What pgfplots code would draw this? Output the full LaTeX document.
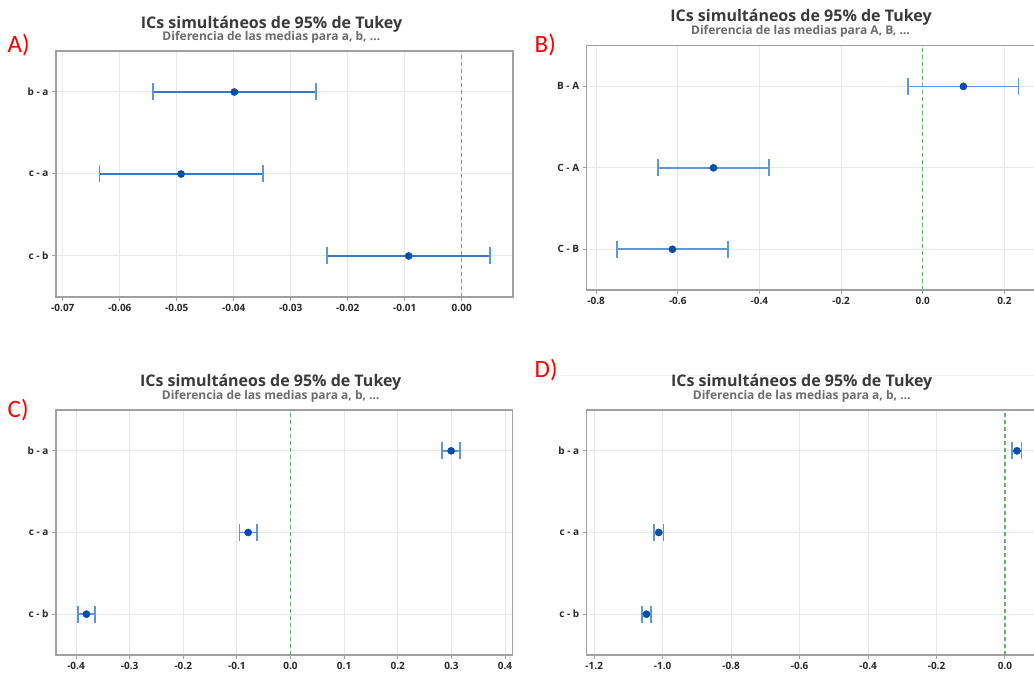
\documentclass[border=0pt]{standalone}
\usepackage{fontspec}
\setmainfont{Open Sans}
\newfontfamily\carlito{Carlito}
\usepackage{pgfplots}
\pgfplotsset{compat=1.18}
\definecolor{barc}{RGB}{58,118,196}
\definecolor{barl}{RGB}{96,150,212}
\definecolor{capc}{RGB}{96,150,212}
\definecolor{dotc}{RGB}{0,78,165}
\definecolor{refc}{RGB}{96,184,108}
\definecolor{gridc}{RGB}{232,232,232}
\definecolor{framec}{RGB}{160,160,160}
\definecolor{tickc}{RGB}{40,40,40}
\definecolor{titlec}{RGB}{58,58,58}
\definecolor{subc}{RGB}{108,108,108}
\pgfplotsset{tukey/.style={scale only axis, width=457pt, height=246pt,
  ymin=0.5, ymax=3.5, ytick={1,2,3},
  grid=major, major grid style={gridc, line width=1pt},
  axis line style={framec, line width=1.3pt},
  tick align=outside, xtick pos=lower, ytick pos=left,
  major tick length=4pt, tick style={framec, line width=1pt},
  ticklabel style={font=\fontsize{10}{12}\selectfont\bfseries, text=tickc},
  scaled x ticks=false,
  /pgf/number format/assume math mode=true,
  /pgf/number format/fixed, /pgf/number format/fixed zerofill,
  anchor=north west},
  ci/.style={only marks, mark=*, mark size=3.6pt, mark options={fill=dotc, draw=dotc},
  error bars/.cd, x dir=both, x explicit, error mark=|,
  error bar style={#1, line width=1.8pt},
  error mark options={capc, line width=1.6pt, mark size=8.5pt}},
  zero/.style={draw=refc, line width=1.5pt, dash pattern=on 4pt off 3pt}}
\begin{document}
\begin{tikzpicture}
\useasboundingbox (0pt,0pt) rectangle (1034pt,673pt);
\clip (0pt,0pt) rectangle (1034pt,673pt);
\fill[white] (0pt,0pt) rectangle (1034pt,673pt);
\draw[black!5, line width=0.8pt] (553pt,298pt) -- (1034pt,298pt);
% Panel A
\begin{axis}[tukey, at={(56pt,622pt)}, xmin=-0.0712, xmax=0.0090,
  xtick={-0.07,-0.06,-0.05,-0.04,-0.03,-0.02,-0.01,0}, yticklabels={c - b, c - a, b - a},
  /pgf/number format/precision=2]
\addplot[zero] coordinates {(0,0.5) (0,3.5)};
\addplot[ci=barc] coordinates {(-0.0399,3) +- (0.0143,0) (-0.04925,2) +- (0.01435,0) (-0.0093,1) +- (0.0143,0)};
\end{axis}
% Panel B
\begin{axis}[tukey, at={(586.7pt,627.3pt)}, height=244.3pt, xmin=-0.823, xmax=0.2963,
  xtick={-0.8,-0.6,-0.4,-0.2,0,0.2}, yticklabels={C - B, C - A, B - A},
  /pgf/number format/precision=1]
\addplot[zero] coordinates {(0,0.5) (0,3.5)};
\addplot[ci=barl] coordinates {(0.0995,3) +- (0.1355,0) (-0.5125,2) +- (0.1365,0) (-0.613,1) +- (0.136,0)};
\end{axis}
% Panel C
\begin{axis}[tukey, at={(56pt,263pt)}, width=456.3pt, height=245pt, xmin=-0.4373, xmax=0.4136,
  xtick={-0.4,-0.3,-0.2,-0.1,0,0.1,0.2,0.3,0.4}, yticklabels={c - b, c - a, b - a},
  /pgf/number format/precision=1]
\addplot[zero] coordinates {(0,0.5) (0,3.5)};
\addplot[ci=barl] coordinates {(0.2995,3) +- (0.0165,0) (-0.079,2) +- (0.016,0) (-0.3805,1) +- (0.0158,0)};
\end{axis}
% Panel D
\begin{axis}[tukey, at={(586.7pt,263pt)}, height=245pt, xmin=-1.222, xmax=0.1131,
  xtick={-1.2,-1.0,-0.8,-0.6,-0.4,-0.2,0}, yticklabels={c - b, c - a, b - a},
  /pgf/number format/precision=1]
\addplot[zero] coordinates {(0,0.5) (0,3.5)};
\addplot[ci=barl] coordinates {(0.035,3) +- (0.0137,0) (-1.0115,2) +- (0.0135,0) (-1.0475,1) +- (0.0128,0)};
\end{axis}
% Titles
\begin{scope}[every node/.style={anchor=base, inner sep=0pt}]
\node[font=\fontsize{16}{19}\selectfont\bfseries, text=titlec] at (271.5pt,644.7pt) {ICs simultáneos de 95\% de Tukey};
\node[font=\fontsize{12}{14}\selectfont\bfseries, text=subc] at (271.3pt,632.3pt) {Diferencia de las medias para a, b, …};
\node[font=\fontsize{16}{19}\selectfont\bfseries, text=titlec] at (801pt,651.3pt) {ICs simultáneos de 95\% de Tukey};
\node[font=\fontsize{12}{14}\selectfont\bfseries, text=subc] at (800.5pt,638.7pt) {Diferencia de las medias para A, B, …};
\node[font=\fontsize{16}{19}\selectfont\bfseries, text=titlec] at (270.7pt,286.3pt) {ICs simultáneos de 95\% de Tukey};
\node[font=\fontsize{12}{14}\selectfont\bfseries, text=subc] at (270.7pt,273.7pt) {Diferencia de las medias para a, b, …};
\node[font=\fontsize{16}{19}\selectfont\bfseries, text=titlec] at (801.7pt,286.3pt) {ICs simultáneos de 95\% de Tukey};
\node[font=\fontsize{12}{14}\selectfont\bfseries, text=subc] at (801.7pt,273.7pt) {Diferencia de las medias para a, b, …};
\end{scope}
\begin{scope}[every node/.style={anchor=base west, inner sep=0pt, text=red, font=\carlito\fontsize{25}{30}\selectfont}]
\node at (7.5pt,620.3pt) {A)};
\node at (534.5pt,620.5pt) {B)};
\node at (7.5pt,255pt) {C)};
\node at (534.5pt,295pt) {D)};
\end{scope}
\end{tikzpicture}
\end{document}
